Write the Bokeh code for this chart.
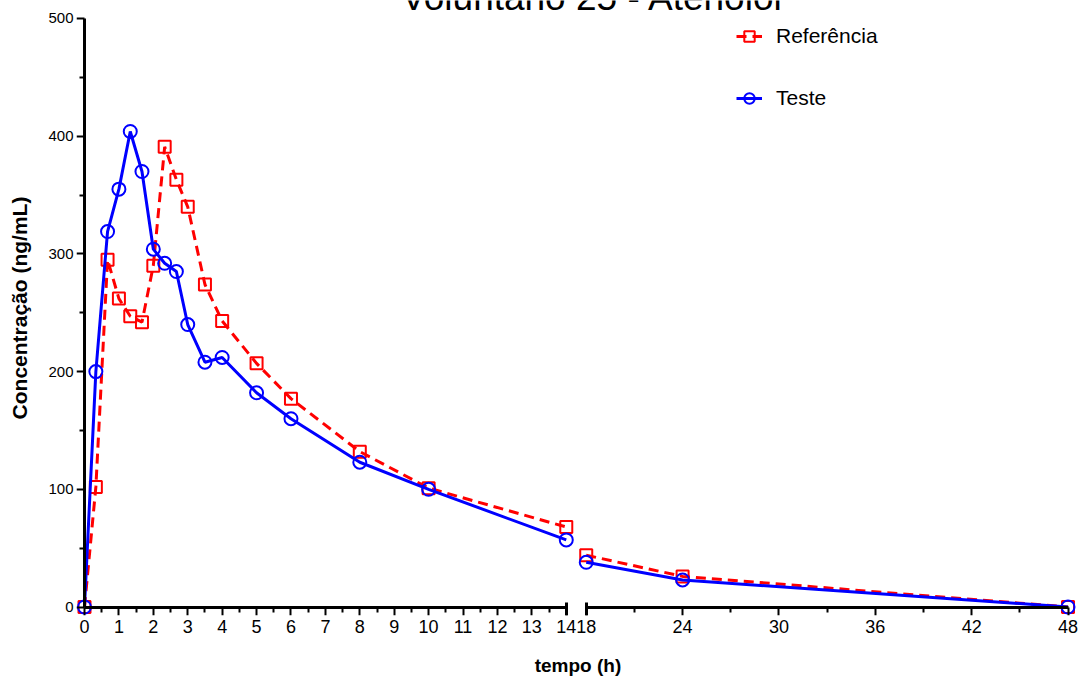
from bokeh.plotting import figure
from bokeh.models import (Range1d, LinearAxis, FixedTicker, CustomJSTickFormatter,
                          Label, Legend, LegendItem)
from bokeh.embed import file_html
from bokeh.resources import INLINE

# ---------------- data ----------------
title_text = "Voluntário 25 - Atenolol"
x_label = "tempo (h)"
y_label = "Concentração (ng/mL)"
series_names = ["Referência", "Teste"]

tempo = [0, 0.33, 0.67, 1, 1.33, 1.67, 2, 2.33, 2.67, 3, 3.5, 4, 5, 6, 8, 10, 14, 18, 24, 48]
referencia = [0, 102, 295, 262, 247, 242, 290, 391, 363, 340, 274, 243, 207, 177, 132, 101, 68, 44, 26, 0]
teste = [0, 200, 319, 355, 404, 370, 304, 292, 285, 240, 208, 212, 182, 160, 123, 100, 57, 38, 23, 0]

x_ticks_left = list(range(0, 15))
x_ticks_right = [18, 24, 30, 36, 42, 48]
x_minor_right = [21, 27, 33, 39, 45]
y_ticks = [0, 100, 200, 300, 400, 500]
y_minor = [50, 150, 250, 350, 450]

# ---------------- broken x axis mapping ----------------
BREAK_LO, BREAK_HI, X_END = 14, 18, 48
GAP = 0.58
RSCALE = BREAK_LO / (X_END - BREAK_HI)


def bx(t):
    return t if t <= BREAK_LO else BREAK_LO + GAP + (t - BREAK_HI) * RSCALE


xs = [bx(t) for t in tempo]
left_idx = [i for i, t in enumerate(tempo) if t <= BREAK_LO]
right_idx = [i for i, t in enumerate(tempo) if t >= BREAK_HI]

FONT = "Liberation Sans"
RED = "#FF0000"
BLUE = "#0000FF"

p = figure(width=1083, height=678,
           x_range=Range1d(-0.2325, 28.914), y_range=Range1d(-7.21, 515.27),
           output_backend="svg", toolbar_location=None,
           min_border_left=76, min_border_right=4, min_border_top=0, min_border_bottom=62)
p.outline_line_color = None
p.xgrid.visible = False
p.ygrid.visible = False
p.background_fill_color = "white"


def line_axis(ax):
    """axis drawn at the data zero: line + ticks only"""
    ax.fixed_location = 0
    ax.axis_line_color = "black"
    ax.axis_line_width = 3
    ax.major_tick_line_color = "black"
    ax.major_tick_line_width = 2
    ax.minor_tick_line_color = "black"
    ax.minor_tick_line_width = 2
    ax.major_tick_in = 0
    ax.major_tick_out = 8
    ax.minor_tick_in = 0
    ax.minor_tick_out = 5
    ax.major_label_text_color = None
    ax.major_label_text_font_size = "1px"


def label_axis(ax, size, title_size):
    """axis at the frame edge: tick labels + title only"""
    ax.axis_line_color = None
    ax.major_tick_line_color = None
    ax.minor_tick_line_color = None
    ax.major_tick_in = 0
    ax.major_tick_out = 0
    ax.minor_tick_in = 0
    ax.minor_tick_out = 0
    ax.major_label_text_font = FONT
    ax.major_label_text_font_size = size
    ax.major_label_text_color = "black"
    ax.axis_label_text_font = FONT
    ax.axis_label_text_font_style = "bold"
    ax.axis_label_text_color = "black"
    ax.axis_label_text_font_size = title_size


# --- y axis: labels ---
yl = p.yaxis[0]
label_axis(yl, "15px", "21px")
yl.ticker = FixedTicker(ticks=y_ticks, minor_ticks=[])
yl.bounds = (y_ticks[0] - 5, y_ticks[-1])
yl.major_label_standoff = 3
yl.axis_label = y_label
yl.axis_label_standoff = 14

# --- y axis: line & ticks ---
yf = LinearAxis()
line_axis(yf)
yf.bounds = (y_ticks[0], y_ticks[-1])
yf.ticker = FixedTicker(ticks=y_ticks, minor_ticks=y_minor)
p.add_layout(yf, "left")

# --- x axis: labels (both segments) + title ---
xl = p.xaxis[0]
label_axis(xl, "18px", "19px")
xl.ticker = FixedTicker(ticks=[bx(t) for t in x_ticks_left + x_ticks_right], minor_ticks=[])
xl.formatter = CustomJSTickFormatter(code=(
    f"if (tick <= {BREAK_LO} + 1e-9) return String(Math.round(tick));"
    f"return String(Math.round({BREAK_HI} + (tick - {BREAK_LO + GAP}) / {RSCALE}));"))
xl.bounds = (bx(x_ticks_left[0]), bx(x_ticks_right[-1]))
xl.major_label_standoff = 4
xl.axis_label = x_label
xl.axis_label_standoff = 19

# --- x axis: left segment line & ticks ---
xfl = LinearAxis()
line_axis(xfl)
xfl.bounds = (bx(x_ticks_left[0]), bx(x_ticks_left[-1]))
xfl.ticker = FixedTicker(ticks=[bx(t) for t in x_ticks_left],
                         minor_ticks=[t + 0.5 for t in x_ticks_left[:-1]])
p.add_layout(xfl, "below")

# --- x axis: right segment line & ticks ---
xfr = LinearAxis()
line_axis(xfr)
xfr.bounds = (bx(x_ticks_right[0]), bx(x_ticks_right[-1]))
xfr.ticker = FixedTicker(ticks=[bx(t) for t in x_ticks_right],
                         minor_ticks=[bx(t) for t in x_minor_right])
p.add_layout(xfr, "below")

# --- break caps ---
xc = LinearAxis()
line_axis(xc)
xc.axis_line_color = None
xc.bounds = (bx(x_ticks_left[0]), bx(x_ticks_right[-1]))
xc.ticker = FixedTicker(ticks=[bx(BREAK_LO), bx(BREAK_HI)], minor_ticks=[])
xc.major_tick_in = 5
xc.major_tick_out = 8
xc.major_tick_line_width = 3
p.add_layout(xc, "below")

# ---------------- series ----------------
ref_lines = []
for seg in (left_idx, right_idx):
    ref_lines.append(p.line([xs[i] for i in seg], [referencia[i] for i in seg],
                            line_color=RED, line_width=3, line_dash="10 6"))
ref_pts = p.scatter(xs, referencia, marker="square", size=12, line_color=RED,
                    line_width=2, fill_color=None)

tst_lines = []
for seg in (left_idx, right_idx):
    tst_lines.append(p.line([xs[i] for i in seg], [teste[i] for i in seg],
                            line_color=BLUE, line_width=3))
tst_pts = p.scatter(xs, teste, marker="circle", size=13, line_color=BLUE,
                    line_width=2, fill_color=None)

legend = Legend(items=[
    LegendItem(label=series_names[0], renderers=[ref_lines[0], ref_pts]),
    LegendItem(label=series_names[1], renderers=[tst_lines[0], tst_pts]),
], location=(660, 502))
legend.border_line_color = None
legend.background_fill_alpha = 0
legend.padding = 0
legend.margin = 0
legend.spacing = 32
legend.glyph_width = 26
legend.glyph_height = 30
legend.label_height = 30
legend.label_standoff = 14
legend.label_text_font = FONT
legend.label_text_font_size = "21px"
legend.label_text_color = "black"
p.add_layout(legend)

title = Label(x=14.76, y=517.8, text=title_text, text_font=FONT, text_font_size="37px",
              text_align="center", text_baseline="alphabetic", text_color="black")
p.add_layout(title)

open("out.html", "w").write(file_html(p, INLINE))
